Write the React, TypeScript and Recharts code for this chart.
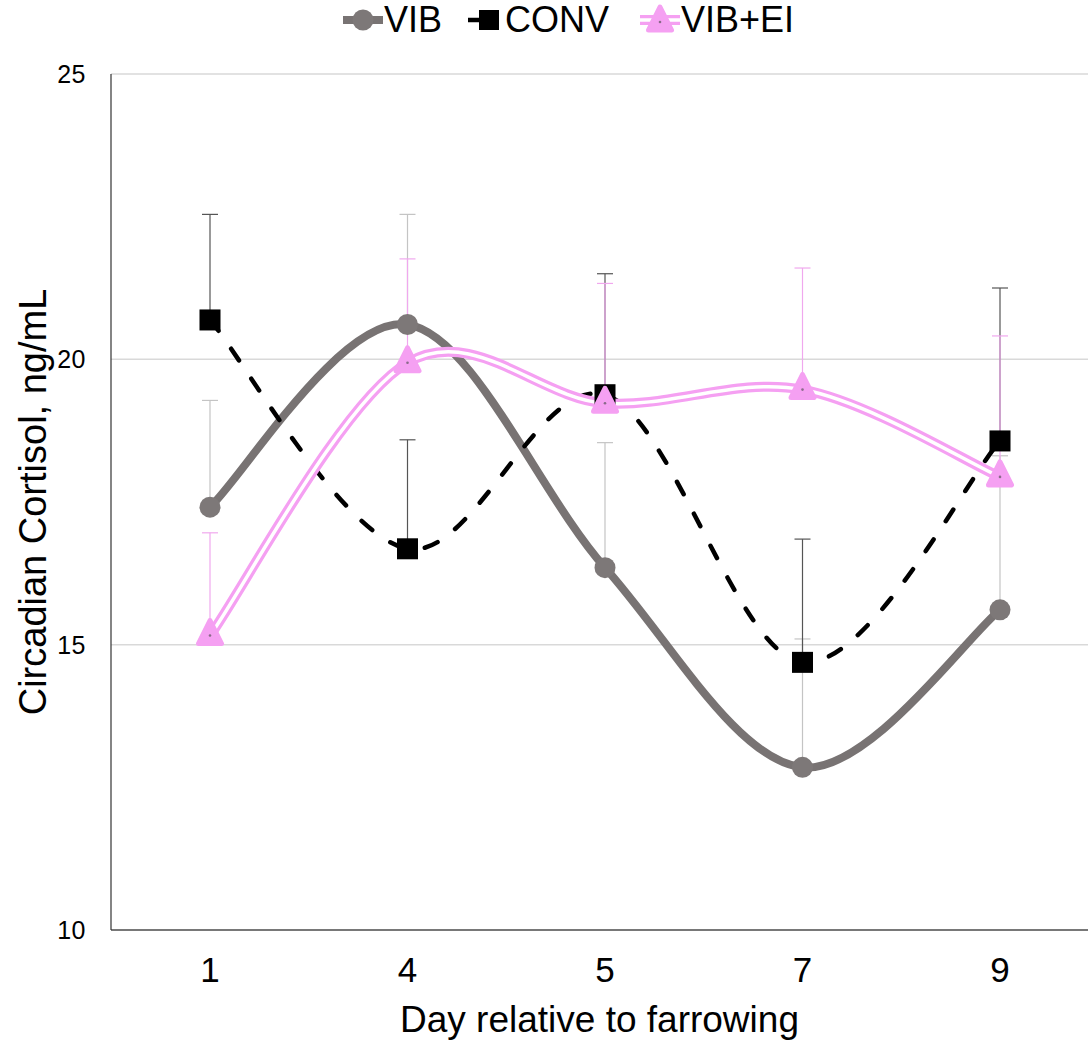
import React from 'react';
import { LineChart, Line, XAxis, YAxis, CartesianGrid, ErrorBar, Legend } from 'recharts';

const days = ['1', '4', '5', '7', '9'];
const vib = [17.41, 20.61, 16.35, 12.85, 15.61];
const conv = [20.69, 16.68, 19.38, 14.69, 18.57];
const vibEi = [15.16, 19.94, 19.23, 19.47, 17.94];
const vibErr = [1.87, 1.93, 2.19, 2.25, 2.7];
const convErr = [1.85, 1.91, 2.12, 2.16, 2.68];
const vibEiErr = [1.8, 1.82, 2.1, 2.13, 2.47];
const yTicks = [10, 15, 20, 25];

const data = days.map((d, i) => ({
  day: d,
  vib: vib[i],
  conv: conv[i],
  vibEi: vibEi[i],
  vibErr: [0, vibErr[i]],
  convErr: [0, convErr[i]],
  vibEiErr: [0, vibEiErr[i]],
}));

const FONT = '"Liberation Sans", Arial, Helvetica, sans-serif';
const GRAY = '#787373';
const PINK = '#f5a0f2';

// Excel-like smoothed line (Catmull-Rom style cubic Bezier)
function smoothCurve(context: any) {
  let pts: [number, number][] = [];
  return {
    areaStart() {},
    areaEnd() {},
    lineStart() {
      pts = [];
    },
    lineEnd() {
      const n = pts.length;
      if (!n) return;
      context.moveTo(pts[0][0], pts[0][1]);
      const k = 1 / 6;
      for (let i = 0; i < n - 1; i++) {
        const p0 = pts[Math.max(i - 1, 0)];
        const p1 = pts[i];
        const p2 = pts[i + 1];
        const p3 = pts[Math.min(i + 2, n - 1)];
        context.bezierCurveTo(
          p1[0] + k * (p2[0] - p0[0]),
          p1[1] + k * (p2[1] - p0[1]),
          p2[0] - k * (p3[0] - p1[0]),
          p2[1] - k * (p3[1] - p1[1]),
          p2[0],
          p2[1]
        );
      }
    },
    point(x: number, y: number) {
      pts.push([+x, +y]);
    },
  };
}

const CircleDot = (props: any) => {
  const { cx, cy, index } = props;
  if (cx == null || cy == null) return <g key={`c${index}`} />;
  return <circle key={`c${index}`} cx={cx} cy={cy} r={10.5} fill="#7d7878" />;
};

const SquareDot = (props: any) => {
  const { cx, cy, index } = props;
  if (cx == null || cy == null) return <g key={`s${index}`} />;
  return <rect key={`s${index}`} x={cx - 10.5} y={cy - 10.5} width={21} height={21} fill="#000" />;
};

const TriDot = (props: any) => {
  const { cx, cy, index } = props;
  if (cx == null || cy == null) return <g key={`t${index}`} />;
  const d = `M${cx},${cy - 15} L${cx + 11.5},${cy + 8} L${cx - 11.5},${cy + 8} Z`;
  return (
    <g key={`t${index}`}>
      <path d={d} fill={PINK} stroke={PINK} strokeWidth={5} strokeLinejoin="round" />
      <circle cx={cx} cy={cy} r={1.3} fill="#8a6a8a" />
    </g>
  );
};

const LegendContent = () => (
  <div style={{ position: 'relative', width: 1088, height: 40, fontFamily: FONT, fontSize: 36, color: '#000' }}>
    <svg width={1088} height={40} style={{ position: 'absolute', left: 0, top: 0 }}>
      <line x1={343} y1={20} x2={383} y2={20} stroke={GRAY} strokeWidth={8} />
      <circle cx={363} cy={20} r={10.5} fill="#7d7878" />
      <line x1={468} y1={20} x2={480} y2={20} stroke="#000" strokeWidth={4.5} />
      <rect x={479} y={10} width={20} height={20} fill="#000" />
      <line x1={640} y1={20} x2={680} y2={20} stroke={PINK} strokeWidth={10} />
      <line x1={640} y1={20} x2={680} y2={20} stroke="#fff" strokeWidth={3.5} />
      <path d="M660,7 L671.5,30 L648.5,30 Z" fill={PINK} stroke={PINK} strokeWidth={5} strokeLinejoin="round" />
      <circle cx={660} cy={22} r={1.3} fill="#8a6a8a" />
    </svg>
    <span style={{ position: 'absolute', left: 384, top: 1, lineHeight: '38px' }}>VIB</span>
    <span style={{ position: 'absolute', left: 505, top: 1, lineHeight: '38px' }}>CONV</span>
    <span style={{ position: 'absolute', left: 681, top: 1, lineHeight: '38px' }}>VIB+EI</span>
  </div>
);

export default function App() {
  return (
    <div style={{ position: 'absolute', left: 0, top: 0, width: 1088, height: 1041, background: '#fff' }}>
      <LineChart
        width={1088}
        height={1041}
        data={data}
        margin={{ top: 34, right: 0, bottom: 0, left: 0 }}
        style={{ fontFamily: FONT }}
      >
        <CartesianGrid horizontal={true} vertical={false} stroke="#d9d9d9" strokeWidth={1.5} />
        <XAxis
          dataKey="day"
          type="category"
          height={111}
          padding={{ left: 99, right: 88 }}
          axisLine={{ stroke: '#555', strokeWidth: 1.5 }}
          tickLine={false}
          tickSize={0}
          tickMargin={27}
          tick={{ fill: '#000', fontSize: 35, fontFamily: FONT }}
          label={{
            value: 'Day relative to farrowing',
            position: 'insideBottom',
            offset: 9,
            style: { fill: '#000', fontSize: 37, fontFamily: FONT },
          }}
        />
        <YAxis
          type="number"
          domain={[10, 25]}
          ticks={yTicks}
          width={111}
          axisLine={{ stroke: '#333', strokeWidth: 1.2 }}
          tickLine={false}
          tickSize={0}
          tickMargin={25}
          tick={{ fill: '#000', fontSize: 25, fontFamily: FONT, letterSpacing: 0.5 }}
          label={{
            value: 'Circadian Cortisol, ng/mL',
            angle: -90,
            position: 'insideLeft',
            offset: 33,
            style: { fill: '#000', fontSize: 38, fontFamily: FONT, textAnchor: 'middle' },
          }}
        />
        <Legend
          layout="vertical"
          align="center"
          verticalAlign="top"
          wrapperStyle={{ top: 0, left: 0, width: 1088, height: 40 }}
          content={LegendContent}
        />
        <Line
          dataKey="vib"
          name="VIB"
          type={smoothCurve as any}
          stroke={GRAY}
          strokeWidth={8}
          dot={CircleDot}
          activeDot={false}
          isAnimationActive={false}
        >
          <ErrorBar dataKey="vibErr" direction="y" width={8} stroke="#c4c4c4" strokeWidth={1.2} />
        </Line>
        <Line
          dataKey="conv"
          name="CONV"
          type={smoothCurve as any}
          stroke="#000"
          strokeWidth={4.5}
          strokeDasharray="14 22"
          strokeLinecap="round"
          dot={SquareDot}
          activeDot={false}
          isAnimationActive={false}
        >
          <ErrorBar dataKey="convErr" direction="y" width={8} stroke="#555" strokeWidth={1.2} />
        </Line>
        <Line
          dataKey="vibEi"
          name="VIB+EI"
          type={smoothCurve as any}
          stroke={PINK}
          strokeWidth={10}
          dot={false}
          activeDot={false}
          legendType="none"
          isAnimationActive={false}
        >
          <ErrorBar dataKey="vibEiErr" direction="y" width={8} stroke="#f0a8ee" strokeWidth={1.2} />
        </Line>
        <Line
          dataKey="vibEi"
          name="VIB+EI inner"
          type={smoothCurve as any}
          stroke="#fff"
          strokeWidth={3.5}
          dot={TriDot}
          activeDot={false}
          legendType="none"
          isAnimationActive={false}
        />
      </LineChart>
    </div>
  );
}
